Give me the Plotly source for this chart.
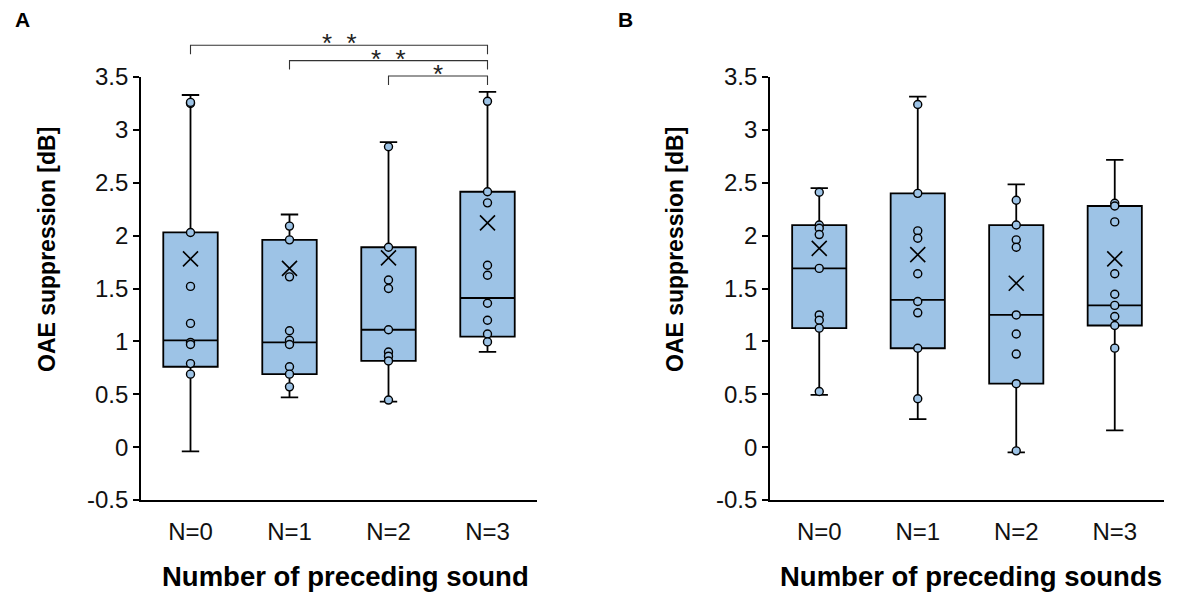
import plotly.graph_objects as go

W, H = 1184, 598

categories = ["N=0", "N=1", "N=2", "N=3"]
cat_pos = [0, 1, 2, 3]
y_ticks = [3.5, 3.0, 2.5, 2.0, 1.5, 1.0, 0.5, 0.0, -0.5]
y_tick_text = ["3.5", "3", "2.5", "2", "1.5", "1", "0.5", "0", "-0.5"]

# Panel A box statistics
a_lower = [-0.04, 0.47, 0.43, 0.90]
a_q1 = [0.76, 0.69, 0.815, 1.045]
a_median = [1.01, 0.99, 1.11, 1.41]
a_q3 = [2.03, 1.96, 1.89, 2.415]
a_upper = [3.33, 2.20, 2.885, 3.36]
a_mean = [1.78, 1.69, 1.79, 2.12]
a_points_n0 = [3.25, 3.26, 2.03, 1.52, 1.17, 0.99, 0.97, 0.79, 0.69]
a_points_n1 = [2.09, 1.96, 1.61, 1.10, 1.01, 0.97, 0.76, 0.69, 0.57]
a_points_n2 = [2.84, 1.89, 1.58, 1.50, 1.11, 0.90, 0.86, 0.815, 0.445]
a_points_n3 = [3.27, 2.415, 2.31, 1.72, 1.625, 1.36, 1.20, 1.07, 0.995]

# Panel B box statistics
b_lower = [0.495, 0.265, -0.05, 0.158]
b_q1 = [1.125, 0.935, 0.60, 1.15]
b_median = [1.69, 1.393, 1.25, 1.34]
b_q3 = [2.10, 2.40, 2.10, 2.28]
b_upper = [2.45, 3.315, 2.485, 2.716]
b_mean = [1.88, 1.82, 1.55, 1.78]
b_points_n0 = [2.41, 2.10, 2.07, 2.01, 1.69, 1.25, 1.20, 1.125, 0.526]
b_points_n1 = [3.24, 2.40, 2.045, 1.975, 1.64, 1.377, 1.27, 0.935, 0.457]
b_points_n2 = [2.335, 2.10, 1.96, 1.89, 1.25, 1.07, 0.88, 0.60, -0.035]
b_points_n3 = [2.306, 2.28, 2.13, 1.64, 1.446, 1.34, 1.235, 1.15, 0.936]

# Significance comparisons in panel A (from, to, label)
sig_pairs = [(0, 3, "*\u00a0\u00a0*"), (1, 3, "*\u00a0\u00a0*"), (2, 3, "*")]

FONT = "Arial, Liberation Sans, Helvetica, sans-serif"
FILL = "#9DC3E6"
Y_RANGE = [-0.5, 3.5]

fig = go.Figure()


def add_panel(xa, ya, lower, q1, med, q3, upper, mean, pts_lists):
    fig.add_trace(go.Box(
        x=cat_pos, q1=q1, median=med, q3=q3, lowerfence=lower, upperfence=upper,
        width=0.55, whiskerwidth=0.32, fillcolor=FILL,
        line=dict(color="black", width=1.8), boxpoints=False,
        xaxis=xa, yaxis=ya, showlegend=False, hoverinfo="skip"))
    px, py = [], []
    for c, pts in zip(cat_pos, pts_lists):
        px += [c] * len(pts)
        py += pts
    fig.add_trace(go.Scatter(
        x=px, y=py, mode="markers",
        marker=dict(size=8, color=FILL, line=dict(color="black", width=1.4)),
        xaxis=xa, yaxis=ya, showlegend=False, cliponaxis=False))
    fig.add_trace(go.Scatter(
        x=cat_pos, y=mean, mode="markers",
        marker=dict(size=15, symbol="x-thin", line=dict(color="black", width=1.6)),
        xaxis=xa, yaxis=ya, showlegend=False))


add_panel("x", "y", a_lower, a_q1, a_median, a_q3, a_upper, a_mean,
          [a_points_n0, a_points_n1, a_points_n2, a_points_n3])
add_panel("x2", "y2", b_lower, b_q1, b_median, b_q3, b_upper, b_mean,
          [b_points_n0, b_points_n1, b_points_n2, b_points_n3])

y_dom = [1 - 500 / H, 1 - 77 / H]

common_x = dict(range=[-0.5, 3.5], tickvals=cat_pos, ticktext=categories,
                showline=True, linecolor="black", linewidth=1.8, ticks="",
                showgrid=False, zeroline=False, ticklabelstandoff=9,
                automargin=False,
                tickfont=dict(family=FONT, size=24, color="#111"))
common_y = dict(range=Y_RANGE, tickvals=y_ticks, ticktext=y_tick_text,
                showline=True, linecolor="black", linewidth=1.8,
                ticks="outside", ticklen=6, tickwidth=1.5, tickcolor="black",
                showgrid=False, zeroline=False, domain=y_dom, automargin=False,
                tickfont=dict(family=FONT, size=24, color="#111"))

fig.update_layout(
    template="none",
    width=W, height=H, margin=dict(l=0, r=0, t=0, b=0, pad=0),
    paper_bgcolor="white", plot_bgcolor="white",
    xaxis=dict(domain=[141 / W, 537 / W], anchor="y", **common_x),
    yaxis=dict(anchor="x", **common_y),
    xaxis2=dict(domain=[770 / W, 1164 / W], anchor="y2", **common_x),
    yaxis2=dict(anchor="x2", **common_y),
)


def dom(v):
    return (v - Y_RANGE[0]) / (Y_RANGE[1] - Y_RANGE[0])


# significance brackets (panel A)
top_level, step, drop = 3.80, 0.145, 0.085
for i, (a, b, lab) in enumerate(sig_pairs):
    lvl = top_level - i * step
    fig.add_shape(type="path", xref="x", yref="y domain",
                  path=f"M {a} {dom(lvl - drop)} L {a} {dom(lvl)} L {b} {dom(lvl)} L {b} {dom(lvl - drop)}",
                  line=dict(color="#333", width=1.1))
    fig.add_annotation(x=(a + b) / 2, y=dom(lvl), xref="x", yref="y domain",
                       text=lab, showarrow=False, yanchor="bottom", yshift=-15,
                       font=dict(family=FONT, size=26, color="#222"))

# axis titles and panel labels
def ann(text, x, y, size, angle=0, bold=True):
    fig.add_annotation(x=x / W, y=1 - y / H, xref="paper", yref="paper",
                       text=f"<b>{text}</b>" if bold else text, showarrow=False,
                       textangle=angle, xanchor="center", yanchor="middle",
                       font=dict(family=FONT, size=size, color="black"))

ann("Number of preceding sound", 345, 576, 27.5)
ann("Number of preceding sounds", 971, 576, 27.5)
ann("OAE suppression [dB]", 47, 250, 23, angle=-90)
ann("OAE suppression [dB]", 675, 250, 23, angle=-90)
ann("A", 22, 20, 21)
ann("B", 625, 20, 21)

fig.write_html("out.html")
